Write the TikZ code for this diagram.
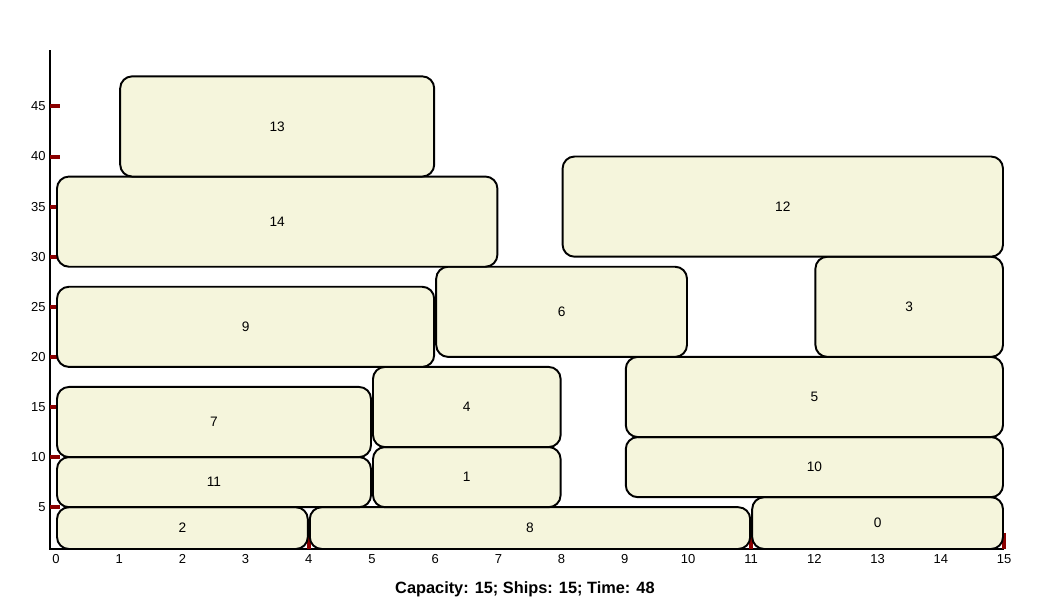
\documentclass[tikz,border=0pt]{standalone}
\usepackage{fontspec}
\setmainfont{Liberation Sans}
\definecolor{shipbeige}{RGB}{245,245,220}
\definecolor{tickred}{RGB}{139,0,0}
\tikzset{
  ship/.style={
    rounded corners=6.8pt,
    draw=black,
    line width=1.1pt,
    fill=shipbeige,
    inner sep=0pt,
    outer sep=0pt,
    font=\fontsize{7.8}{9}\selectfont
  },
  axisline/.style={
    line width=1.2pt,
    black
  },
  tickmark/.style={
    fill=tickred,
    draw=none
  },
  ticklabel/.style={
    inner sep=0pt,
    font=\fontsize{7.4}{9}\selectfont
  },
  caption/.style={
    inner sep=0pt,
    font=\bfseries\fontsize{9.3}{11}\selectfont
  }
}

\begin{document}
\begin{tikzpicture}[x=1.264cm, y=0.2004cm]
\useasboundingbox (-0.886,-4.26) rectangle (15.728,55.62);
% axes
\coordinate (origin) at (-0.095,0.83);
\coordinate (ytop) at (-0.095,50.6);
\coordinate (xend) at (15.0,0.83);
\draw[axisline] (ytop) -- (origin) -- (xend);
% ticks and tick labels
\foreach \v in {5,10,...,45} {
  \fill[tickmark] (-0.095,\v-0.2) rectangle (0.063,\v+0.2);
  \node[ticklabel, anchor=east] (ylab\v) at (-0.16,\v) {\v};
}
\foreach \u in {1,...,15}
  \fill[tickmark] (\u-0.032,0.83) rectangle (\u+0.032,2.4);
\foreach \u in {0,...,15}
  \node[ticklabel] (xlab\u) at (\u,-0.2) {\u};
% ships: id/x1/y1/x2/y2
\foreach \sid/\xa/\ya/\xb/\yb in {2/0/0.83/4/5, 8/4/0.83/11/5, 0/11/0.83/15/6,
    11/0/5/5/10, 7/0/10/5/17, 1/5/5/8/11, 4/5/11/8/19,
    10/9/6/15/12, 5/9/12/15/20, 9/0/19/6/27, 6/6/20/10/29,
    3/12/20/15/30, 14/0/29/7/38, 12/8/30/15/40, 13/1/38/6/48} {
  \pgfmathsetmacro\w{(\xb-\xa)*1.264-0.04}
  \pgfmathsetmacro\h{(\yb-\ya)*0.2004}
  \node[ship, minimum width=\w cm, minimum height=\h cm] (ship\sid)
    at ({(\xa+\xb)/2},{(\ya+\yb)/2}) {\sid};
}
% caption
\node[caption] (summary) at (7.42,-3.16) {Capacity: 15; Ships: 15; Time: 48};
\end{tikzpicture}
\end{document}
